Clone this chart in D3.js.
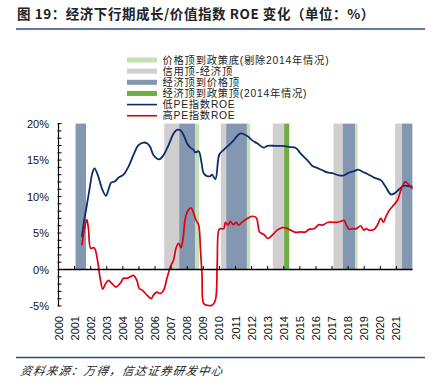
<!DOCTYPE html>
<html><head><meta charset="utf-8">
<script src="https://cdn.jsdelivr.net/npm/d3@7"></script>
<style>
html,body{margin:0;padding:0;background:#fff;}
svg{display:block;}
</style></head>
<body>
<svg id="c" width="441" height="386"></svg>
<script>
// ---------- data ----------
const titleText = "图 19：经济下行期成长/价值指数 ROE 变化（单位：%）";
const sourceText = "资料来源：万得，信达证券研发中心";
const yearLabels = ["2000","2001","2002","2003","2004","2005","2006","2007","2008","2009","2010","2011","2012","2013","2014","2015","2016","2017","2018","2019","2020","2021"];
const yTicks = [-5, 0, 5, 10, 15, 20];

const legendNames = ["价格顶到政策底(剔除2014年情况)","信用顶-经济顶","经济顶到价格顶","经济顶到政策顶(2014年情况)","低PE指数ROE","高PE指数ROE"];

// shaded periods [start, end] in fractional years
const priceTopToPolicyBottom = [[2008.49,2008.73],[2011.71,2011.91],[2018.43,2018.58]];
const creditTopToEconomyTop = [[2006.57,2007.50],[2010.09,2010.42],[2013.32,2014.02],[2017.09,2017.67],[2020.92,2021.35]];
const economyTopToPriceTop = [[2001.06,2001.71],[2007.50,2008.49],[2010.42,2011.71],[2017.67,2018.43],[2021.35,2021.99]];
const economyTopToPolicyTop2014 = [[2014.02,2014.34]];

// ROE series [year, %]
const lowPE = [[2001.45,4.4],[2001.6,6.8],[2001.76,8.8],[2001.97,11.6],[2002.1,13.2],[2002.24,13.85],[2002.45,12.9],[2002.7,11.1],[2002.95,10.1],[2003.1,10.9],[2003.27,11.9],[2003.52,12.1],[2003.73,12.6],[2004.04,13.0],[2004.35,14.1],[2004.66,15.7],[2004.97,17.05],[2005.28,17.4],[2005.5,17.3],[2005.7,16.8],[2005.9,15.7],[2006.26,15.1],[2006.53,15.7],[2006.84,17.05],[2007.15,18.65],[2007.36,19.15],[2007.57,19.1],[2007.78,18.4],[2007.99,17.3],[2008.19,16.7],[2008.4,16.4],[2008.5,16.05],[2008.71,16.2],[2008.88,14.75],[2009.02,13.2],[2009.23,12.8],[2009.44,12.8],[2009.54,13.0],[2009.75,12.4],[2010.0,15.8],[2010.27,16.4],[2010.58,17.05],[2010.89,17.7],[2011.1,18.3],[2011.31,18.65],[2011.73,18.3],[2012.04,17.7],[2012.35,17.3],[2012.76,16.7],[2012.97,16.95],[2013.49,16.95],[2013.91,16.95],[2014.32,16.8],[2014.73,16.7],[2015.05,15.9],[2015.46,15.0],[2015.78,14.2],[2016.09,13.9],[2016.4,13.6],[2016.71,13.3],[2017.02,13.2],[2017.43,12.9],[2017.74,12.9],[2018.06,13.3],[2018.37,13.5],[2018.62,13.7],[2018.89,13.4],[2019.2,13.1],[2019.61,12.6],[2020.03,12.25],[2020.34,11.3],[2020.65,10.3],[2020.86,10.4],[2021.17,11.0],[2021.48,11.5],[2021.8,11.4],[2022.0,11.4]];

const highPE = [[2001.45,3.3],[2001.6,5.4],[2001.76,6.85],[2001.86,5.6],[2002.0,2.9],[2002.17,3.0],[2002.27,2.8],[2002.44,1.05],[2002.59,-1.2],[2002.75,-2.7],[2002.9,-2.05],[2003.1,-1.5],[2003.31,-1.9],[2003.58,-2.4],[2003.83,-1.9],[2004.04,-1.2],[2004.25,-1.2],[2004.45,-1.0],[2004.66,-0.8],[2004.87,-1.5],[2005.02,-2.6],[2005.22,-2.85],[2005.5,-3.5],[2005.76,-4.0],[2005.9,-3.5],[2006.12,-3.1],[2006.32,-3.3],[2006.53,-2.85],[2006.74,-1.2],[2006.95,0.35],[2007.15,1.3],[2007.3,2.9],[2007.46,3.6],[2007.61,3.0],[2007.74,4.25],[2007.88,7.0],[2008.05,8.1],[2008.24,8.45],[2008.4,7.7],[2008.55,6.75],[2008.71,6.1],[2008.82,2.9],[2008.92,-0.8],[2009.02,-4.65],[2009.23,-4.9],[2009.54,-4.9],[2009.75,-4.2],[2009.86,0.6],[2009.96,5.4],[2010.06,5.6],[2010.27,5.6],[2010.37,6.45],[2010.54,6.1],[2010.68,6.6],[2010.85,6.15],[2011.04,6.45],[2011.2,6.1],[2011.41,6.5],[2011.73,7.0],[2012.04,7.3],[2012.29,7.1],[2012.5,5.15],[2012.76,4.8],[2013.01,4.25],[2013.28,4.7],[2013.59,5.4],[2013.91,5.75],[2014.11,5.7],[2014.42,5.4],[2014.73,5.1],[2015.05,5.15],[2015.36,5.15],[2015.56,5.5],[2015.88,5.6],[2016.19,6.15],[2016.44,6.1],[2016.71,6.45],[2016.92,6.5],[2017.23,6.45],[2017.54,6.6],[2017.74,6.75],[2017.89,6.1],[2018.06,5.5],[2018.26,5.6],[2018.51,5.6],[2018.78,6.0],[2018.98,5.4],[2019.13,5.6],[2019.3,5.4],[2019.61,5.5],[2019.82,6.1],[2020.03,7.0],[2020.2,6.5],[2020.34,7.2],[2020.55,8.1],[2020.86,8.9],[2021.07,9.5],[2021.28,10.9],[2021.53,12.0],[2021.7,11.8],[2021.9,11.3],[2022.0,11.1]];

// ---------- styles ----------
const C = {
  lightGreen: "#c5e0b4",
  grey: "#d0cece",
  slate: "#8497b0",
  green: "#70ad47",
  navy: "#0c2d6b",
  red: "#e00010",
  rule: "#2f4b7c"
};
const cjk = "'Noto Sans CJK SC','Noto Sans',sans-serif";
const latin = "'Liberation Sans',Arial,sans-serif";
const mixed = "'Liberation Sans','Noto Sans CJK SC',sans-serif";

const svg = d3.select("#c");

// ---------- scales ----------
const x = d3.scaleLinear().domain([2000, 2022]).range([58.5, 412.5]);
const y = d3.scaleLinear().domain([-5, 20]).range([306, 123.6]);

// ---------- title & rules ----------
svg.append("text").attr("x", 17).attr("y", 19)
  .attr("font-family", cjk).attr("font-size", 13.5).attr("font-weight", 700)
  .attr("fill", "#222").attr("letter-spacing", 0.55).text(titleText);
svg.append("line").attr("x1", 16).attr("x2", 425).attr("y1", 29).attr("y2", 29)
  .attr("stroke", C.rule).attr("stroke-width", 1.6);
svg.append("line").attr("x1", 16).attr("x2", 425).attr("y1", 357.5).attr("y2", 357.5)
  .attr("stroke", C.rule).attr("stroke-width", 1.6);
svg.append("text").attr("x", 20).attr("y", 375)
  .attr("font-family", cjk).attr("font-size", 11.5).attr("font-style", "italic")
  .attr("fill", "#222").attr("letter-spacing", 1.2)
  .attr("transform", "skewX(-10) translate(66,0)").text(sourceText);

// ---------- bands ----------
function bands(data, color) {
  svg.append("g").selectAll("rect").data(data).join("rect")
    .attr("x", d => x(d[0])).attr("width", d => x(d[1]) - x(d[0]))
    .attr("y", y(20)).attr("height", y(0) - y(20))
    .attr("fill", color);
}
bands(creditTopToEconomyTop, C.grey);
bands(economyTopToPriceTop, C.slate);
bands(priceTopToPolicyBottom, C.lightGreen);
bands(economyTopToPolicyTop2014, C.green);

// ---------- lines ----------
const line = d3.line().x(d => x(d[0])).y(d => y(d[1])).curve(d3.curveCatmullRom.alpha(0.5));
svg.append("path").datum(lowPE).attr("d", line).attr("fill", "none")
  .attr("stroke", C.navy).attr("stroke-width", 1.8);
svg.append("path").datum(highPE).attr("d", line).attr("fill", "none")
  .attr("stroke", C.red).attr("stroke-width", 1.7);

// ---------- axes ----------
const yAxis = svg.append("g");
yAxis.append("line").attr("x1", x(2000)).attr("x2", x(2000)).attr("y1", y(20)).attr("y2", y(-5))
  .attr("stroke", "#000").attr("stroke-width", 1.2);
yAxis.selectAll("line.minor").data(d3.range(-5, 21)).join("line").attr("class", "minor")
  .attr("x1", x(2000) - 1).attr("x2", x(2000) + 3)
  .attr("y1", d => y(d)).attr("y2", d => y(d))
  .attr("stroke", "#000").attr("stroke-width", 1);
yAxis.selectAll("text").data(yTicks).join("text")
  .attr("x", 49).attr("y", d => y(d) + 4)
  .attr("text-anchor", "end").attr("font-family", latin).attr("font-size", 11)
  .attr("fill", "#111").text(d => d + "%");

const xAxis = svg.append("g");
xAxis.append("line").attr("x1", x(2000)).attr("x2", x(2022)).attr("y1", y(0)).attr("y2", y(0))
  .attr("stroke", "#000").attr("stroke-width", 1.3);
xAxis.selectAll("line.t").data(yearLabels.slice(1)).join("line").attr("class", "t")
  .attr("x1", d => x(+d)).attr("x2", d => x(+d))
  .attr("y1", y(0)).attr("y2", y(0) - 3.5)
  .attr("stroke", "#000").attr("stroke-width", 1);
xAxis.selectAll("text").data(yearLabels).join("text")
  .attr("transform", d => `translate(${x(+d) + 4},316) rotate(-90)`)
  .attr("text-anchor", "end").attr("font-family", latin).attr("font-size", 11)
  .attr("fill", "#111").text(d => d);

// ---------- legend ----------
const legendKinds = [
  {type: "bar", color: C.lightGreen},
  {type: "bar", color: C.grey},
  {type: "bar", color: C.slate},
  {type: "bar", color: C.green},
  {type: "line", color: C.navy},
  {type: "line", color: C.red}
];
const lg = svg.append("g");
legendNames.forEach((name, i) => {
  const cy = 60 + i * 11.15;
  const k = legendKinds[i];
  if (k.type === "bar") {
    lg.append("rect").attr("x", 127).attr("y", cy - 2.5).attr("width", 30).attr("height", 5).attr("fill", k.color);
  } else {
    lg.append("line").attr("x1", 127).attr("x2", 157).attr("y1", cy).attr("y2", cy)
      .attr("stroke", k.color).attr("stroke-width", 1.6);
  }
  lg.append("text").attr("x", 162.5).attr("y", cy + 3.7)
    .attr("font-family", mixed).attr("font-size", 10.3).attr("letter-spacing", 0.75)
    .attr("fill", "#222").text(name);
});
</script>
</body></html>
